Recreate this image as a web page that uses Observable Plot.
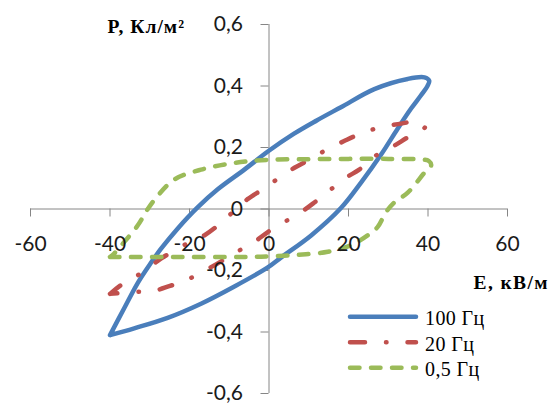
<!DOCTYPE html>
<html><head><meta charset="utf-8">
<script src="https://cdn.jsdelivr.net/npm/d3@7"></script>
<script src="https://cdn.jsdelivr.net/npm/@observablehq/plot@0.6"></script>
<style>
body{margin:0;background:#fff;}
#wrap{position:relative;width:550px;height:403px;overflow:hidden;}
#wrap svg.over{position:absolute;left:0;top:0;}
</style></head><body><div id="wrap"></div>
<script>
const xTicks = [-60, -40, -20, 0, 20, 40, 60];
const yTicks = [-0.6, -0.4, -0.2, 0, 0.2, 0.4, 0.6];
const seriesNames = ["100 Гц", "20 Гц", "0,5 Гц"];
const seriesColors = ["#4A7EBB", "#C0504D", "#9BBB59"];
const xTitle = "E, кВ/м";
const yTitle = "P, Кл/м²";

// 100 Hz loop
const e100 = [-40, -36.4, -33, -29.7, -27.2, -23, -17.9, -12.9, -6.2, -0.3, 6.3, 12, 18.1, 26.5, 34.9, 39.1, 40.3, 39.9, 38.2, 35.7, 32.4, 28.2, 23.1, 18.1, 10.6, 3, -0.3, -8.7, -17.1, -25.5, -33.9, -40];
const p100 = [-0.41, -0.322, -0.24, -0.175, -0.13, -0.064, 0.006, 0.064, 0.128, 0.187, 0.245, 0.288, 0.331, 0.39, 0.423, 0.428, 0.417, 0.401, 0.369, 0.326, 0.262, 0.177, 0.085, 0.003, -0.086, -0.158, -0.19, -0.252, -0.308, -0.354, -0.388, -0.41];
// 20 Hz loop
const e20 = [-40, -37.1, -32.2, -27, -21, -16.3, -12.9, -9.6, -5.4, -1.6, 2.4, 6.4, 10.1, 14.5, 18.9, 22.7, 27.5, 32.4, 36.6, 39.3, 34.5, 31.1, 26.9, 22.7, 19.4, 15.3, 11.4, 8, 3.8, -0.3, -3.7, -8.3, -14, -20.6, -25.1, -29.3, -34.3, -40];
const p20 = [-0.276, -0.246, -0.209, -0.16, -0.115, -0.086, -0.054, -0.016, 0.032, 0.064, 0.10, 0.134, 0.16, 0.193, 0.221, 0.243, 0.264, 0.276, 0.282, 0.268, 0.23, 0.203, 0.174, 0.128, 0.102, 0.061, 0.021, -0.011, -0.043, -0.075, -0.107, -0.141, -0.185, -0.23, -0.251, -0.267, -0.27, -0.276];
// 0.5 Hz loop
const e05 = [-40, -30, -20, -10, -2, 6.4, 14.8, 20.6, 24.8, 27.3, 29.4, 31.5, 34.9, 39.1, 40.8, 40.2, 38.5, 30, 20, 10, -0.3, -8.7, -17.1, -23.8, -28, -30.5, -33, -36.4, -38.9, -40];
const p05 = [-0.156, -0.156, -0.156, -0.156, -0.155, -0.15, -0.139, -0.118, -0.086, -0.059, -0.011, 0.021, 0.053, 0.118, 0.142, 0.156, 0.161, 0.163, 0.163, 0.162, 0.16, 0.15, 0.128, 0.096, 0.043, 0, -0.053, -0.107, -0.144, -0.156];

const toRows = (E, P) => E.map((e, i) => ({E: e, P: P[i]}));
const rows = [toRows(e100, p100), toRows(e20, p20), toRows(e05, p05)];
const dashes = [null, "13,21,0.5,21", "9.5,11.5"];
const fmt = d => String(d).replace(".", ",");
const axisColor = "#868686";

const plot = Plot.plot({
  width: 550, height: 403,
  marginLeft: 30, marginRight: 43, marginTop: 24, marginBottom: 10,
  x: {domain: [-60, 60], axis: null},
  y: {domain: [-0.6, 0.6], axis: null},
  style: {fontFamily: "Lato, 'Open Sans', sans-serif", fontSize: "21px", background: "white", overflow: "visible"},
  marks: [
    Plot.ruleY([0], {stroke: axisColor}),
    Plot.ruleX([0], {stroke: axisColor}),
    Plot.ruleX(xTicks, {x: d => d, y1: 0, y2: 0, insetTop: 8, stroke: axisColor}),
    Plot.ruleY(yTicks, {y: d => d, x1: 0, x2: 0, insetLeft: -8, stroke: axisColor}),
    ...rows.map((r, k) => Plot.line(r, {
      x: "E", y: "P", stroke: seriesColors[k], strokeWidth: 4.5,
      strokeDasharray: dashes[k], strokeLinecap: "round", strokeLinejoin: "round",
      curve: "catmull-rom"
    })),
    Plot.text(xTicks, {x: d => d, y: 0, dy: 35, text: fmt, fill: "#1a1a1a"}),
    Plot.text(yTicks, {x: 0, y: d => d, dx: -26, textAnchor: "end", text: fmt, fill: "#1a1a1a"})
  ]
});
const wrap = document.getElementById("wrap");
wrap.appendChild(plot);

// overlay: axis titles and legend
const svg = d3.select(wrap).append("svg").attr("class", "over").attr("width", 550).attr("height", 403);
const serif = "'Liberation Serif', 'Times New Roman', serif";
svg.append("text").attr("x", 185).attr("y", 33.3).attr("text-anchor", "end")
  .attr("font-family", serif).attr("font-weight", "bold").attr("font-size", 19.5)
  .attr("letter-spacing", 1).text(yTitle);
svg.append("text").attr("x", 549).attr("y", 289.3).attr("text-anchor", "end")
  .attr("font-family", serif).attr("font-weight", "bold").attr("font-size", 19.5)
  .attr("letter-spacing", 1.4).text(xTitle);
const leg = svg.append("g").attr("transform", "translate(348,316.7)");
seriesNames.forEach((name, k) => {
  const g = leg.append("g").attr("transform", `translate(0,${k * 25.5})`);
  g.append("line").attr("x1", 2).attr("x2", 68).attr("y1", 0).attr("y2", 0)
    .attr("stroke", seriesColors[k]).attr("stroke-width", 4.5).attr("stroke-linecap", "round")
    .attr("stroke-dasharray", k === 1 ? "15,21,0.5,21" : dashes[k]);
  g.append("text").attr("x", 77).attr("y", 8.3).attr("font-family", serif).attr("font-size", 20)
    .attr("letter-spacing", 0.4).text(name);
});
</script></body></html>
